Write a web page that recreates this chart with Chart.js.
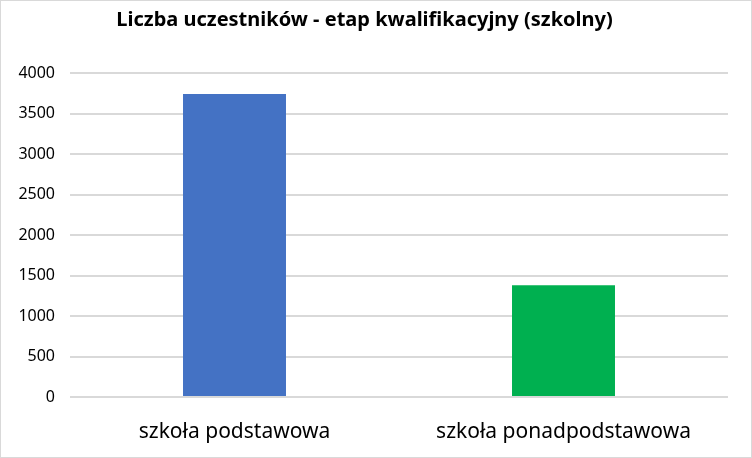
<!DOCTYPE html>
<html>
<head>
<meta charset="utf-8">
<script src="https://cdn.jsdelivr.net/npm/chart.js@4/dist/chart.umd.min.js"></script>
<style>
  html, body { margin: 0; padding: 0; background: #fff; }
  .box { width: 752px; height: 458px; box-sizing: border-box; border: 1px solid #d9d9d9; }
</style>
</head>
<body>
<div class="box"><canvas id="myChart" width="750" height="456"></canvas></div>
<script>
const categories = ['szkoła podstawowa', 'szkoła ponadpodstawowa'];
const participants = [3740, 1380];
const barColors = ['#4472c4', '#00b050'];
const yTicks = [0, 500, 1000, 1500, 2000, 2500, 3000, 3500, 4000];

const fontName = 'Noto Sans';

const config = {
  type: 'bar',
  data: {
    labels: categories,
    datasets: [{
      data: participants,
      backgroundColor: barColors,
      borderWidth: 0,
      categoryPercentage: 1,
      barPercentage: 0.313
    }]
  },
  options: {
    responsive: false,
    animation: false,
    layout: { padding: { left: 0, right: 23, top: 0, bottom: 0 } },
    scales: {
      x: {
        grid: { display: false },
        border: { display: false },
        ticks: { color: '#000', padding: 14, font: { family: fontName, size: 21 } },
        afterFit: (axis) => { axis.height = 60; }
      },
      y: {
        min: 0,
        max: 4000,
        afterBuildTicks: (axis) => { axis.ticks = yTicks.map(v => ({ value: v })); },
        grid: { color: '#d9d9d9', lineWidth: 2, drawTicks: false },
        border: { display: false },
        ticks: {
          color: '#000', padding: 15, font: { family: fontName, size: 16 },
          callback: (v) => String(v)
        },
        afterFit: (axis) => { axis.width = 69; }
      }
    },
    plugins: {
      legend: { display: false },
      tooltip: { enabled: false },
      title: {
        display: true,
        text: 'Liczba uczestników - etap kwalifikacyjny (szkolny)',
        color: '#000',
        font: { family: fontName, size: 20, weight: 'bold' },
        padding: { top: 7, bottom: 41 }
      }
    }
  }
};

const myChart = new Chart(document.getElementById('myChart'), config);
</script>
</body>
</html>
